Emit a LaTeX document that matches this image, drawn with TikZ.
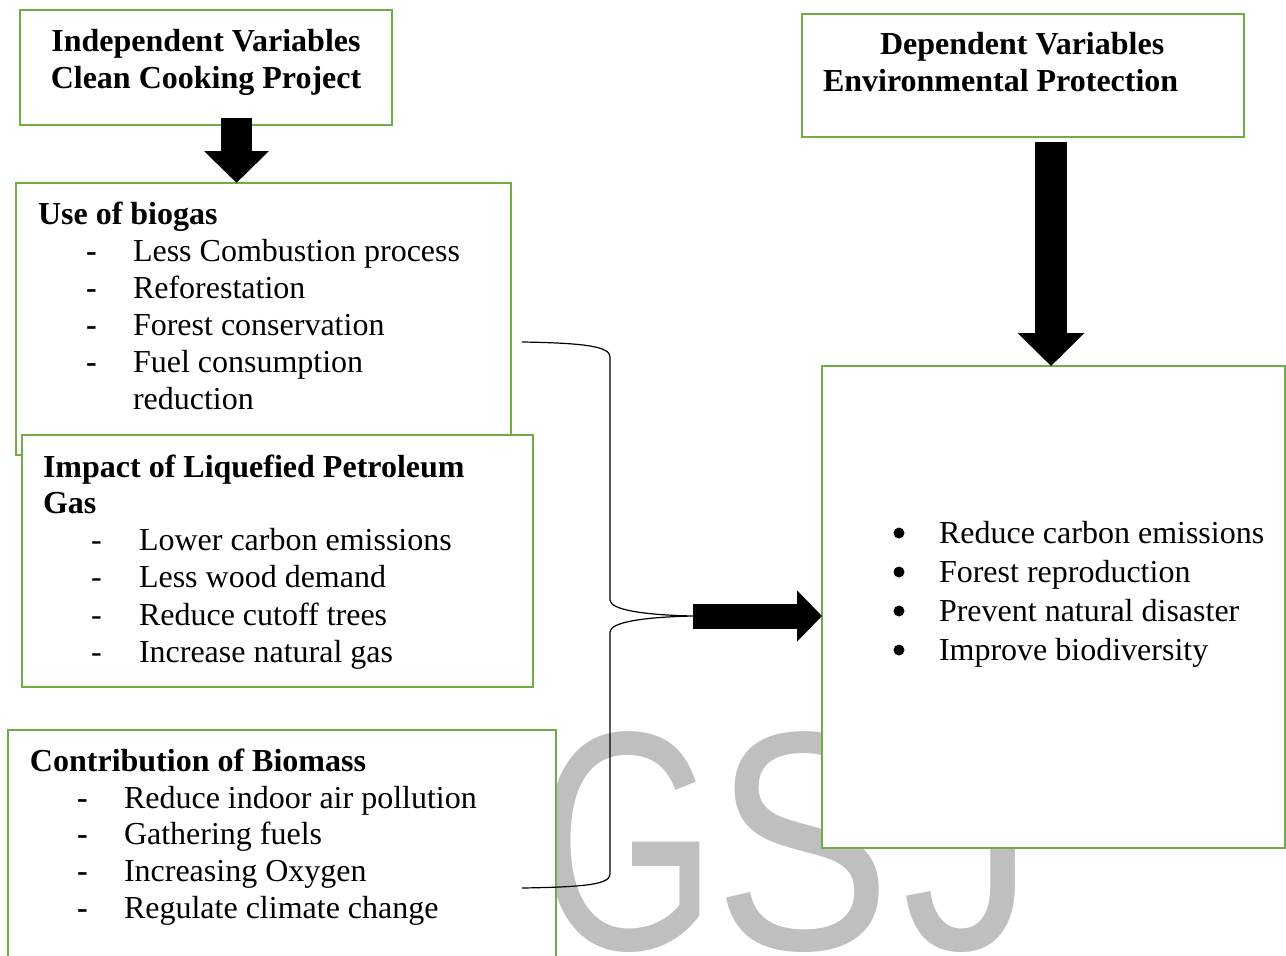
\documentclass[tikz,border=0pt]{standalone}
\usepackage{fontspec}
\setmainfont{Liberation Serif}
\newfontfamily\wmfont{Liberation Sans}
\usetikzlibrary{arrows.meta}
\definecolor{boxgreen}{HTML}{70AD47}
\definecolor{wmgray}{HTML}{BFBFBF}
\begin{document}
\begin{tikzpicture}[x=1pt,y=-1pt,
  box/.style={draw=boxgreen, line width=2.6pt, fill=white, rectangle, inner sep=0pt, outer sep=0pt, anchor=north west},
  txt/.style={anchor=base west, inner sep=0pt, outer sep=0pt, font=\fontsize{32}{36.8}\selectfont},
  btxt/.style={anchor=base west, inner sep=0pt, outer sep=0pt, font=\fontsize{32}{36.8}\selectfont\bfseries},
  wm/.style={anchor=base west, inner sep=0pt, outer sep=0pt, text=wmgray, font=\wmfont\fontsize{312}{312}\selectfont},
  bulletdot/.style={circle, fill=black, draw=none, inner sep=0pt, outer sep=0pt, minimum size=11pt},
  bracel/.style={draw=black, line width=1.2pt},
  fatarrow/.style={draw=black, line width=#1}
]
\useasboundingbox (0,0) rectangle (1286,956);
\clip (0,0) rectangle (1286,956);
% watermark
\node[wm] (wmG) at (537,949) {\scalebox{0.74}[1]{G}};
\node[wm] (wmS) at (714,949) {\scalebox{0.85}[1]{S}};
\node[wm] (wmJ) at (902,949) {\scalebox{0.85}[1]{J}};

% boxes
\node[box, minimum width=372pt, minimum height=115pt] (b1) at (20,10) {};
\node[box, minimum width=495pt, minimum height=272pt] (b2) at (16,183) {};
\node[box, minimum width=511pt, minimum height=252pt] (b3) at (22,435) {};
\node[box, minimum width=548pt, minimum height=250pt] (b4) at (8,730) {};
\node[box, minimum width=442pt, minimum height=123pt] (b5) at (802,14) {};
\node[box, minimum width=463pt, minimum height=482pt] (b6) at (822,366) {};

% box 1 text
\node[btxt, anchor=base] (t1a) at (206,51) {Independent Variables};
\node[btxt, anchor=base] (t1b) at (206,88) {Clean Cooking Project};

% box 5 text
\node[btxt] (t5a) at (880,54) {Dependent Variables};
\node[btxt] (t5b) at (823,91) {Environmental Protection};

% box 2 text
\node[btxt] (t2h) at (38,224) {Use of biogas};
\node[btxt] (d21) at (86,261) {-};
\node[btxt] (d22) at (86,298) {-};
\node[btxt] (d23) at (86,335) {-};
\node[btxt] (d24) at (86,372) {-};
\node[txt] (t21) at (133,261) {Less Combustion process};
\node[txt] (t22) at (133,298) {Reforestation};
\node[txt] (t23) at (133,335) {Forest conservation};
\node[txt] (t24) at (133,372) {Fuel consumption};
\node[txt] (t25) at (133,409) {reduction};

% box 3 text
\node[btxt] (t3h) at (43,477) {Impact of Liquefied Petroleum};
\node[btxt] (t3h2) at (43,513) {Gas};
\node[txt] (d31) at (91,550) {-};
\node[txt] (d32) at (91,587) {-};
\node[txt] (d33) at (91,625) {-};
\node[txt] (d34) at (91,662) {-};
\node[txt] (t31) at (139,550) {Lower carbon emissions};
\node[txt] (t32) at (139,587) {Less wood demand};
\node[txt] (t33) at (139,625) {Reduce cutoff trees};
\node[txt] (t34) at (139,662) {Increase natural gas};

% box 4 text
\node[btxt] (t4h) at (30,771) {Contribution of Biomass};
\node[btxt] (d41) at (77,808) {-};
\node[btxt] (d42) at (77,844) {-};
\node[btxt] (d43) at (77,881) {-};
\node[btxt] (d44) at (77,918) {-};
\node[txt] (t41) at (124,808) {Reduce indoor air pollution};
\node[txt] (t42) at (124,844) {Gathering fuels};
\node[txt] (t43) at (124,881) {Increasing Oxygen};
\node[txt] (t44) at (124,918) {Regulate climate change};

% box 6 text
\node[bulletdot] (u61) at (899,533) {};
\node[bulletdot] (u62) at (899,572) {};
\node[bulletdot] (u63) at (899,611) {};
\node[bulletdot] (u64) at (899,650) {};
\node[txt] (t61) at (939,543) {Reduce carbon emissions};
\node[txt] (t62) at (939,582) {Forest reproduction};
\node[txt] (t63) at (939,621) {Prevent natural disaster};
\node[txt] (t64) at (939,660) {Improve biodiversity};

% arrows
\coordinate (a1x) at (236.5,0);
\coordinate (a2x) at (1051,0);
\draw[fatarrow=31pt, -{Triangle[width=63pt,length=32pt]}] ([yshift=7pt]b1.south -| a1x) -- (b2.north -| a1x);
\draw[fatarrow=32pt, -{Triangle[width=65pt,length=33pt]}] ([yshift=-5pt]b5.south -| a2x) -- (b6.north -| a2x);

% brace
\coordinate (bra) at (522,342);
\coordinate (brt) at (693,616);
\coordinate (brb) at (522,888);
\draw[bracel] (bra) .. controls (588,343) and (610,347) .. (610,357) -- (610,600)
  .. controls (610,610) and (645,615) .. (brt)
  .. controls (645,617) and (610,622) .. (610,632) -- (610,874)
  .. controls (610,884) and (588,887) .. (brb);
\draw[fatarrow=25pt, -{Triangle[width=50pt,length=25pt]}] (brt) -- (b6.west |- brt);
\end{tikzpicture}
\end{document}
